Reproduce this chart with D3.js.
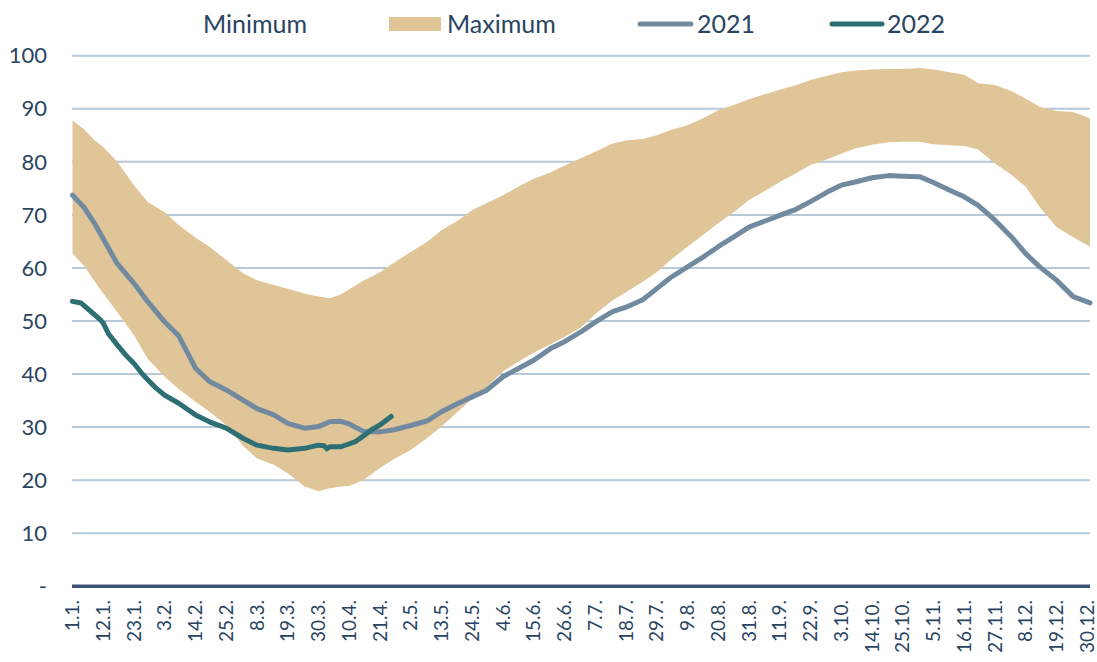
<!DOCTYPE html>
<html>
<head>
<meta charset="utf-8">
<script src="https://cdn.jsdelivr.net/npm/d3@7"></script>
<style>
  body { margin: 0; background: #fff; }
  text { font-family: Lato, "Open Sans", sans-serif; fill: #2a4562; }
</style>
</head>
<body>
<div id="chart"></div>
<script>
let width = 1097,
    height = 662;

// day of year (0 = 1.1.) for sampled values
let days = [0,4,8,11,16,22,27,33,38,44,49,55,61,66,72,77,83,88,92,96,99,104,110,115,121,127,132,138,143,148,154,160,165,171,176,182,187,193,198,204,209,214,220,226,231,237,242,248,253,259,264,270,275,280,286,292,297,303,308,314,319,324,330,336,341,346,352,358,364];

let maxVals = [87.8,86.2,84,82.8,80,75.6,72.4,70.5,68.1,65.7,64,61.5,59,57.7,56.8,56.1,55.2,54.6,54.3,55,56,57.6,59.2,61,63,65,67.1,69,70.9,72.2,73.7,75.5,76.8,78,79.3,80.7,81.9,83.4,84,84.3,85,86,86.9,88.3,89.7,90.8,91.8,92.8,93.6,94.5,95.4,96.2,96.9,97.2,97.4,97.5,97.5,97.7,97.4,96.9,96.4,94.8,94.5,93.3,91.9,90.4,89.6,89.4,88.2];

let minVals = [62.7,60.5,57.4,55.2,51.7,47.3,42.8,39.5,37.2,34.8,32.9,30.4,26.5,24.1,22.9,21.3,18.8,17.9,18.5,18.8,18.9,20,22.3,24,25.7,28,30.1,33,35.4,37.5,40.5,42.5,44,45.6,47,48.8,51.3,53.8,55.4,57.4,59.2,61.5,64,66.4,68.4,70.7,72.8,74.6,76.2,77.9,79.4,80.5,81.5,82.5,83.2,83.7,83.8,83.8,83.3,83.1,83,82.3,79.7,77.5,75.3,71.5,67.7,65.8,64];

let vals2021 = [73.7,71.5,68.3,65.5,60.8,57.1,53.6,49.8,47.2,41.1,38.6,37,35.1,33.5,32.3,30.7,29.8,30.1,31,31.1,30.6,29.2,29.1,29.5,30.3,31.2,32.9,34.5,35.7,36.9,39.5,41.2,42.6,44.8,46.1,48,49.8,51.7,52.6,54,56.1,58.2,60.2,62.2,64,66,67.7,68.9,69.9,71.1,72.5,74.3,75.6,76.2,77,77.4,77.3,77.2,76.1,74.6,73.4,71.8,69,65.8,62.7,60.2,57.7,54.6,53.4];

let days2022 = [0,3,7,10,11,13,16,19,22,25,27,30,33,38,44,49,55,61,66,72,77,83,88,90,91,92,96,101,104,107,110,114];
let vals2022 = [53.7,53.4,51.6,50.2,49.6,47.5,45.5,43.6,42,40,38.9,37.3,36,34.5,32.3,31,29.8,27.9,26.6,26,25.7,26,26.6,26.5,25.9,26.3,26.3,27.2,28.3,29.5,30.4,32];

let tickDays = [0,11,22,33,44,55,66,77,88,99,110,121,132,143,154,165,176,187,198,209,220,231,242,253,264,275,286,297,308,319,330,341,352,363];
let tickLabels = ["1.1.","12.1.","23.1.","3.2.","14.2.","25.2.","8.3.","19.3.","30.3.","10.4.","21.4.","2.5.","13.5.","24.5.","4.6.","15.6.","26.6.","7.7.","18.7.","29.7.","9.8.","20.8.","31.8.","11.9.","22.9.","3.10.","14.10.","25.10.","5.11.","16.11.","27.11.","8.12.","19.12.","30.12."];

let yTicks = [0,10,20,30,40,50,60,70,80,90,100];

let svg = d3.select("#chart")
  .append("svg")
  .attr("width", width)
  .attr("height", height);

let x = d3.scaleLinear().domain([0, 364]).range([72.5, 1090]);
let y = d3.scaleLinear().domain([0, 100]).range([586.3, 55.7]);

// gridlines
svg.append("g")
  .selectAll("line")
  .data(yTicks.filter(d => d > 0))
  .enter().append("line")
  .attr("x1", 72)
  .attr("x2", 1090)
  .attr("y1", d => y(d))
  .attr("y2", d => y(d))
  .attr("stroke", "#b7c8d8")
  .attr("stroke-width", 2);

// y labels
svg.append("g")
  .selectAll("text")
  .data(yTicks)
  .enter().append("text")
  .attr("x", 47)
  .attr("y", d => y(d))
  .attr("dy", "0.35em")
  .attr("text-anchor", "end")
  .style("font-size", "22px")
  .text(d => d === 0 ? "-" : d);

// band between minimum and maximum
let band = days.map((d, i) => ({ day: d, lo: minVals[i], hi: maxVals[i] }));

let area = d3.area()
  .x(d => x(d.day))
  .y0(d => y(d.lo))
  .y1(d => y(d.hi));

svg.append("path")
  .datum(band)
  .attr("d", area)
  .attr("fill", "#e0c599");

let line = d3.line()
  .x(d => x(d[0]))
  .y(d => y(d[1]));

svg.append("path")
  .datum(days.map((d, i) => [d, vals2021[i]]))
  .attr("d", line)
  .attr("fill", "none")
  .attr("stroke", "#718aa0")
  .attr("stroke-width", 5)
  .attr("stroke-linejoin", "round")
  .attr("stroke-linecap", "round");

svg.append("path")
  .datum(days2022.map((d, i) => [d, vals2022[i]]))
  .attr("d", line)
  .attr("fill", "none")
  .attr("stroke", "#2e6f74")
  .attr("stroke-width", 5)
  .attr("stroke-linejoin", "round")
  .attr("stroke-linecap", "round");

// x axis line
svg.append("line")
  .attr("x1", 72)
  .attr("x2", 1090)
  .attr("y1", y(0))
  .attr("y2", y(0))
  .attr("stroke", "#3a5572")
  .attr("stroke-width", 3.5);

// x labels
svg.append("g")
  .selectAll("text")
  .data(tickDays)
  .enter().append("text")
  .attr("transform", d => "translate(" + x(d) + ",600) rotate(-90)")
  .attr("dy", "0.35em")
  .attr("text-anchor", "end")
  .style("font-size", "19px")
  .text((d, i) => tickLabels[i]);

// legend
let legend = svg.append("g").style("font-size", "25px");

legend.append("text").attr("x", 203).attr("y", 24).attr("dy", "0.35em").text("Minimum");
legend.append("rect").attr("x", 389).attr("y", 17).attr("width", 52).attr("height", 14).attr("fill", "#e0c599");
legend.append("text").attr("x", 447).attr("y", 24).attr("dy", "0.35em").text("Maximum");
legend.append("line").attr("x1", 640).attr("x2", 691).attr("y1", 24).attr("y2", 24)
  .attr("stroke", "#718aa0").attr("stroke-width", 5).attr("stroke-linecap", "round");
legend.append("text").attr("x", 697).attr("y", 24).attr("dy", "0.35em").text("2021");
legend.append("line").attr("x1", 832).attr("x2", 882).attr("y1", 24).attr("y2", 24)
  .attr("stroke", "#2e6f74").attr("stroke-width", 5).attr("stroke-linecap", "round");
legend.append("text").attr("x", 887).attr("y", 24).attr("dy", "0.35em").text("2022");
</script>
</body>
</html>
